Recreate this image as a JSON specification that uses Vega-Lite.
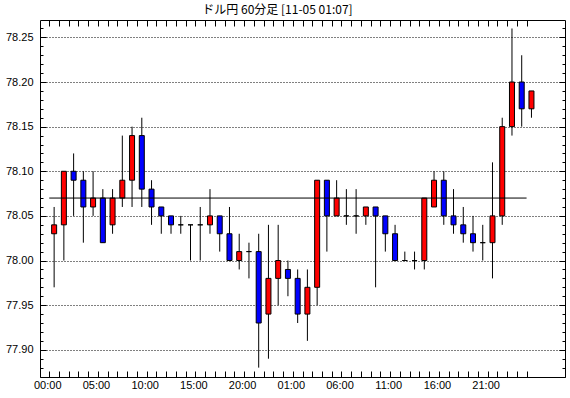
{
  "$schema": "https://vega.github.io/schema/vega-lite/v6.json",
  "width": 525,
  "height": 357,
  "autosize": "none",
  "padding": {"left": 40, "top": 20, "right": 5, "bottom": 21},
  "background": "white",
  "title": {"text": "ドル円 60分足 [11-05 01:07]", "font": "Noto Sans CJK JP", "fontSize": 12, "fontWeight": "normal", "color": "black", "anchor": "middle", "frame": "group", "dx": -25, "offset": 3},
  "datasets": {
    "candles": [
      {"i": 0, "o": 78.03, "h": 78.06, "l": 77.97, "c": 78.04},
      {"i": 1, "o": 78.04, "h": 78.10, "l": 78.00, "c": 78.10},
      {"i": 2, "o": 78.10, "h": 78.12, "l": 78.05, "c": 78.09},
      {"i": 3, "o": 78.09, "h": 78.10, "l": 78.02, "c": 78.06},
      {"i": 4, "o": 78.06, "h": 78.10, "l": 78.05, "c": 78.07},
      {"i": 5, "o": 78.07, "h": 78.08, "l": 78.02, "c": 78.02},
      {"i": 6, "o": 78.04, "h": 78.08, "l": 78.03, "c": 78.07},
      {"i": 7, "o": 78.07, "h": 78.14, "l": 78.06, "c": 78.09},
      {"i": 8, "o": 78.09, "h": 78.15, "l": 78.06, "c": 78.14},
      {"i": 9, "o": 78.14, "h": 78.16, "l": 78.06, "c": 78.08},
      {"i": 10, "o": 78.08, "h": 78.09, "l": 78.04, "c": 78.06},
      {"i": 11, "o": 78.06, "h": 78.06, "l": 78.03, "c": 78.05},
      {"i": 12, "o": 78.05, "h": 78.05, "l": 78.03, "c": 78.04},
      {"i": 13, "o": 78.04, "h": 78.05, "l": 78.03, "c": 78.04},
      {"i": 14, "o": 78.04, "h": 78.04, "l": 78.00, "c": 78.04},
      {"i": 15, "o": 78.04, "h": 78.06, "l": 78.00, "c": 78.04},
      {"i": 16, "o": 78.04, "h": 78.08, "l": 78.03, "c": 78.05},
      {"i": 17, "o": 78.05, "h": 78.05, "l": 78.01, "c": 78.03},
      {"i": 18, "o": 78.03, "h": 78.06, "l": 78.00, "c": 78.00},
      {"i": 19, "o": 78.00, "h": 78.03, "l": 77.99, "c": 78.01},
      {"i": 20, "o": 78.01, "h": 78.02, "l": 77.98, "c": 78.01},
      {"i": 21, "o": 78.01, "h": 78.03, "l": 77.88, "c": 77.93},
      {"i": 22, "o": 77.94, "h": 78.04, "l": 77.89, "c": 77.98},
      {"i": 23, "o": 77.98, "h": 78.04, "l": 77.95, "c": 78.00},
      {"i": 24, "o": 77.99, "h": 78.00, "l": 77.96, "c": 77.98},
      {"i": 25, "o": 77.98, "h": 77.99, "l": 77.93, "c": 77.94},
      {"i": 26, "o": 77.94, "h": 77.99, "l": 77.91, "c": 77.97},
      {"i": 27, "o": 77.97, "h": 78.09, "l": 77.95, "c": 78.09},
      {"i": 28, "o": 78.09, "h": 78.09, "l": 78.01, "c": 78.05},
      {"i": 29, "o": 78.05, "h": 78.09, "l": 78.05, "c": 78.07},
      {"i": 30, "o": 78.05, "h": 78.08, "l": 78.04, "c": 78.05},
      {"i": 31, "o": 78.05, "h": 78.08, "l": 78.03, "c": 78.05},
      {"i": 32, "o": 78.05, "h": 78.06, "l": 78.04, "c": 78.06},
      {"i": 33, "o": 78.06, "h": 78.06, "l": 77.97, "c": 78.05},
      {"i": 34, "o": 78.05, "h": 78.05, "l": 78.01, "c": 78.03},
      {"i": 35, "o": 78.03, "h": 78.04, "l": 78.00, "c": 78.00},
      {"i": 36, "o": 78.00, "h": 78.01, "l": 78.00, "c": 78.00},
      {"i": 37, "o": 78.00, "h": 78.01, "l": 77.99, "c": 78.00},
      {"i": 38, "o": 78.00, "h": 78.07, "l": 77.99, "c": 78.07},
      {"i": 39, "o": 78.06, "h": 78.10, "l": 78.06, "c": 78.09},
      {"i": 40, "o": 78.09, "h": 78.10, "l": 78.04, "c": 78.05},
      {"i": 41, "o": 78.05, "h": 78.08, "l": 78.03, "c": 78.04},
      {"i": 42, "o": 78.04, "h": 78.06, "l": 78.02, "c": 78.03},
      {"i": 43, "o": 78.03, "h": 78.05, "l": 78.01, "c": 78.02},
      {"i": 44, "o": 78.02, "h": 78.04, "l": 78.00, "c": 78.02},
      {"i": 45, "o": 78.02, "h": 78.11, "l": 77.98, "c": 78.05},
      {"i": 46, "o": 78.05, "h": 78.16, "l": 78.04, "c": 78.15},
      {"i": 47, "o": 78.15, "h": 78.26, "l": 78.14, "c": 78.20},
      {"i": 48, "o": 78.20, "h": 78.23, "l": 78.15, "c": 78.17},
      {"i": 49, "o": 78.17, "h": 78.19, "l": 78.16, "c": 78.19}
    ],
    "hline": [{"x1": -0.5, "x2": 48.5, "y": 78.07}]
  },
  "layer": [
    {
      "data": {"name": "candles"},
      "mark": {"type": "rule", "color": "black", "strokeWidth": 1},
      "encoding": {
        "x": {
          "field": "i", "type": "quantitative",
          "scale": {"domain": [-0.937, 51.93], "nice": false, "zero": false},
          "axis": {
            "orient": "bottom", "title": null, "domain": false, "grid": false,
            "values": [-0.5,0.5,1.5,2.5,3.5,4.5,5.5,6.5,7.5,8.5,9.5,10.5,11.5,12.5,13.5,14.5,15.5,16.5,17.5,18.5,19.5,20.5,21.5,22.5,23.5,24.5,25.5,26.5,27.5,28.5,29.5,30.5,31.5,32.5,33.5,34.5,35.5,36.5,37.5,38.5,39.5,40.5,41.5,42.5,43.5,44.5,45.5,46.5,47.5,48.5],
            "tickSize": -6, "tickColor": "black",
            "labelExpr": "((datum.value+0.5)%5==0) ? ((((datum.value+0.5)%24)<10?'0':'') + ((datum.value+0.5)%24) + ':00') : ''",
            "labelFlush": false, "labelOverlap": false, "labelBound": false,
            "labelOffset": -2, "labelPadding": 8, "labelBaseline": "top"
          }
        },
        "y": {
          "field": "l", "type": "quantitative",
          "scale": {"domain": [77.8695, 78.2695], "nice": false, "zero": false},
          "axis": {
            "orient": "left", "title": null, "domain": false, "grid": false,
            "values": [77.87,77.88,77.89,77.9,77.91,77.92,77.93,77.94,77.95,77.96,77.97,77.98,77.99,78.0,78.01,78.02,78.03,78.04,78.05,78.06,78.07,78.08,78.09,78.1,78.11,78.12,78.13,78.14,78.15,78.16,78.17,78.18,78.19,78.2,78.21,78.22,78.23,78.24,78.25,78.26],
            "tickSize": {"condition": {"test": "round(datum.value*100)%5==0", "value": -6}, "value": -3},
            "tickColor": "black",
            "labelExpr": "round(datum.value*100)%5==0 ? format(datum.value, '.2f') : ''",
            "labelOverlap": false, "labelFlush": false, "labelBound": false,
            "labelPadding": 13
          }
        },
        "y2": {"field": "h"}
      }
    },
    {
      "data": {"name": "candles"},
      "mark": {"type": "bar", "size": 5, "stroke": "black", "strokeWidth": 1},
      "encoding": {
        "x": {
          "field": "i", "type": "quantitative",
          "scale": {"domain": [-0.937, 51.93], "nice": false, "zero": false},
          "axis": {
            "orient": "top", "title": null, "domain": false, "grid": false, "labels": false,
            "values": [-0.5,0.5,1.5,2.5,3.5,4.5,5.5,6.5,7.5,8.5,9.5,10.5,11.5,12.5,13.5,14.5,15.5,16.5,17.5,18.5,19.5,20.5,21.5,22.5,23.5,24.5,25.5,26.5,27.5,28.5,29.5,30.5,31.5,32.5,33.5,34.5,35.5,36.5,37.5,38.5,39.5,40.5,41.5,42.5,43.5,44.5,45.5,46.5,47.5,48.5],
            "tickSize": -6, "tickColor": "black"
          }
        },
        "y": {
          "field": "o", "type": "quantitative",
          "scale": {"domain": [77.8695, 78.2695], "nice": false, "zero": false},
          "axis": {
            "orient": "right", "title": null, "domain": false, "grid": false, "labels": false,
            "values": [77.87,77.88,77.89,77.9,77.91,77.92,77.93,77.94,77.95,77.96,77.97,77.98,77.99,78.0,78.01,78.02,78.03,78.04,78.05,78.06,78.07,78.08,78.09,78.1,78.11,78.12,78.13,78.14,78.15,78.16,78.17,78.18,78.19,78.2,78.21,78.22,78.23,78.24,78.25,78.26],
            "tickSize": {"condition": {"test": "round(datum.value*100)%5==0", "value": -6}, "value": -3},
            "tickColor": "black"
          }
        },
        "y2": {"field": "c"},
        "color": {"condition": {"test": "datum.c < datum.o", "value": "#0000ff"}, "value": "#ff0000"}
      }
    },
    {
      "data": {"name": "hline"},
      "mark": {"type": "rule", "color": "black", "strokeWidth": 1},
      "encoding": {
        "x": {"field": "x1", "type": "quantitative", "scale": {"domain": [-0.937, 51.93], "nice": false, "zero": false}, "axis": null},
        "x2": {"field": "x2"},
        "y": {
          "field": "y", "type": "quantitative",
          "scale": {"domain": [77.8695, 78.2695], "nice": false, "zero": false},
          "axis": {
            "orient": "left", "title": null, "domain": false, "labels": false, "ticks": false,
            "grid": true, "gridColor": "black", "gridDash": [1, 2], "gridOpacity": 1, "gridWidth": 1,
            "values": [77.9, 77.95, 78.0, 78.05, 78.1, 78.15, 78.2, 78.25]
          }
        }
      }
    }
  ],
  "resolve": {"axis": {"x": "independent", "y": "independent"}},
  "config": {
    "view": {"stroke": "black", "strokeWidth": 1},
    "axis": {"labelFont": "Liberation Sans", "labelFontSize": 11, "labelColor": "black"}
  }
}
